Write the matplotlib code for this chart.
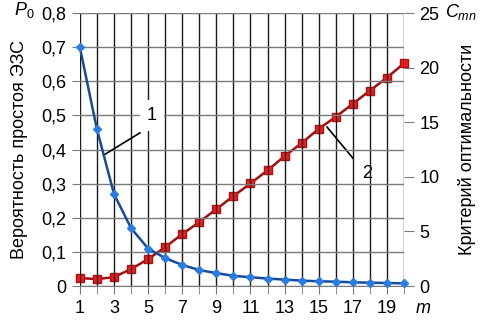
import matplotlib.pyplot as plt
from matplotlib.ticker import FuncFormatter

plt.rcParams['font.family'] = ['Liberation Sans', 'DejaVu Sans']
plt.rcParams['mathtext.fontset'] = 'custom'
plt.rcParams['mathtext.it'] = 'Liberation Sans:italic'
plt.rcParams['mathtext.rm'] = 'Liberation Sans'

m = list(range(1, 21))
p0 = [0.70, 0.46, 0.27, 0.17, 0.11, 0.082, 0.062, 0.047, 0.038, 0.030,
      0.026, 0.022, 0.019, 0.016, 0.014, 0.013, 0.011, 0.010, 0.009, 0.008]
cmn = [0.73, 0.64, 0.82, 1.56, 2.47, 3.57, 4.76, 5.86, 7.05, 8.24,
       9.4, 10.6, 11.9, 13.1, 14.4, 15.5, 16.7, 17.9, 19.1, 20.4]
x_ticks = [1, 3, 5, 7, 9, 11, 13, 15, 17, 19]

fig = plt.figure(figsize=(4.81, 3.2), dpi=100)
ax = fig.add_axes([0.166, 0.106, 0.674, 0.853])
ax2 = ax.twinx()

ax.set_xlim(1, 20)
ax.set_ylim(0, 0.8)
ax2.set_ylim(0, 25)
ax.set_xticks(x_ticks)
ax.set_xticks(m, minor=True)
ax.set_yticks([i / 10 for i in range(9)])
ax2.set_yticks([0, 5, 10, 15, 20, 25])
ax.yaxis.set_major_formatter(FuncFormatter(
    lambda v, _: '0' if v == 0 else f'{v:.1f}'.replace('.', ',')))

ax.grid(True, axis='y', color='#7a7a7a', lw=1.0)
for xv in m:
    ax.axvline(xv, color='#1a1a1a', lw=1.0, zorder=0.5)

for s in ['top', 'right', 'left']:
    ax.spines[s].set_visible(False)
    ax2.spines[s].set_visible(False)
ax2.spines['bottom'].set_visible(False)
ax.spines['bottom'].set_color('#7a7a7a')

ax.tick_params(axis='y', labelsize=13, length=6, color='#7a7a7a', pad=4)
ax.tick_params(axis='x', which='both', labelsize=13, length=6, color='#7a7a7a', pad=4)
ax2.tick_params(axis='y', labelsize=13, length=7, color='#7a7a7a', pad=4)

ax2.plot(m, cmn, color='#a01010', lw=1.8, marker='s', ms=6,
         mfc='#ee1c1c', mec='#b01010', zorder=3, clip_on=False)
ax.plot(m, p0, color='#1a4a9a', lw=1.8, marker='D', ms=4.5,
        mfc='#2a7de0', mec='#2a7de0', zorder=3, clip_on=False)
ax.set_zorder(ax2.get_zorder() + 1)
ax.patch.set_visible(False)

# callouts
ax.plot([2.4, 4.52], [0.384, 0.449], color='black', lw=1.2)
ax.text(5.22, 0.50, '1', fontsize=13, ha='center', va='center',
        bbox=dict(fc='white', ec='none', pad=5))
ax2.plot([15.49, 17.0], [14.56, 11.72], color='black', lw=1.2)
ax2.text(17.83, 10.35, '2', fontsize=13, ha='center', va='center',
         bbox=dict(fc='white', ec='none', pad=5))

ax.set_ylabel('Вероятность простоя ЭЗС', fontsize=13)
ax.yaxis.set_label_coords(-0.16, 0.5)
ax2.set_ylabel('Критерий оптимальности', fontsize=13)
ax2.yaxis.set_label_coords(1.165, 0.5)

fig.text(0.071, 0.969, '$P_0$', fontsize=13, ha='right', va='center')
fig.text(0.958, 0.962, '$C_{mn}$', fontsize=13, ha='center', va='center')
fig.text(0.879, 0.035, '$m$', fontsize=13, ha='center', va='center')

fig.savefig('out.png', dpi=100)
